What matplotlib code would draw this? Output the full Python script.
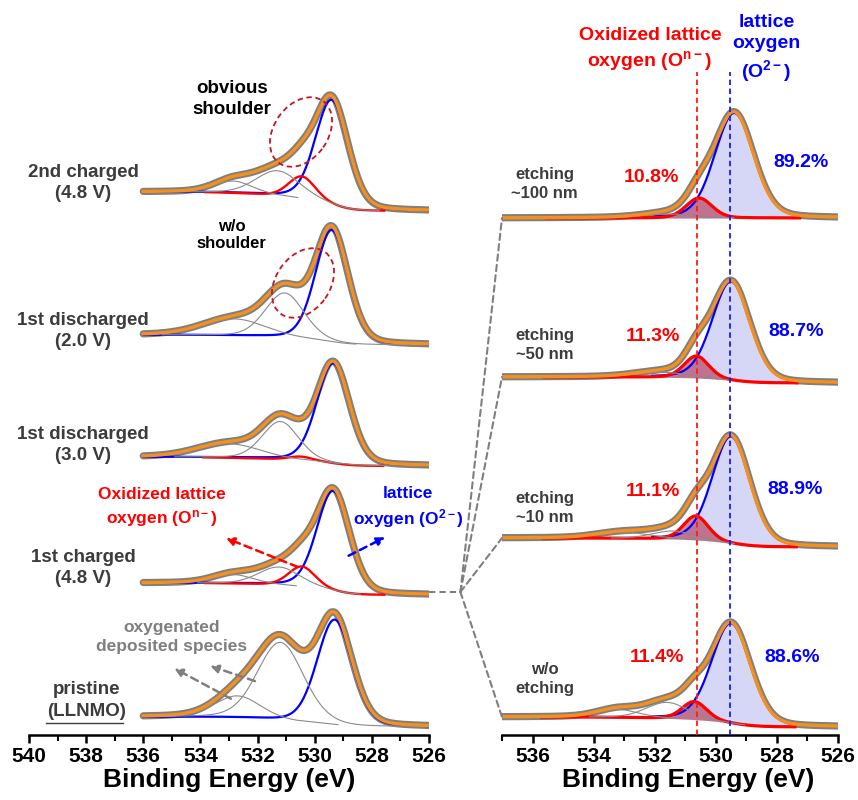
import numpy as np
import matplotlib
matplotlib.use("Agg")
import matplotlib.pyplot as plt
from matplotlib.patches import Ellipse, ConnectionPatch
from matplotlib import transforms

plt.rcParams['font.family'] = ['Liberation Sans', 'DejaVu Sans']
plt.rcParams['font.weight'] = 'bold'
plt.rcParams['mathtext.fontset'] = 'custom'
plt.rcParams['mathtext.rm'] = 'Liberation Sans:bold'
plt.rcParams['mathtext.bf'] = 'Liberation Sans:bold'
plt.rcParams['mathtext.it'] = 'Liberation Sans:bold'

# ---- data (intensity in arbitrary units, stacked) ----
# left panel, bottom to top
left_labels = ["1st charged\n(4.8 V)", "1st discharged\n(3.0 V)",
               "1st discharged\n(2.0 V)", "2nd charged\n(4.8 V)"]
left_bg_high = [18, 152, 278, 400, 543]   # background at 536 eV
left_bg_low = [8, 140, 269, 390, 524]     # background at 526 eV
# fitted components: (kind, centre eV, fwhm eV, height)
left_peaks = [
    [("O2-", 529.3, 1.45, 105), ("dep", 531.2, 1.9, 78), ("dep", 532.7, 1.9, 22)],
    [("O2-", 529.35, 1.35, 100), ("On-", 530.45, 1.1, 20),
     ("dep", 531.25, 1.7, 18), ("dep", 532.85, 1.7, 9)],
    [("O2-", 529.35, 1.35, 100), ("On-", 530.5, 1.0, 4),
     ("dep", 531.2, 1.5, 38), ("dep", 533.0, 2.6, 14)],
    [("O2-", 529.4, 1.35, 112), ("dep", 531.05, 1.6, 45), ("dep", 532.8, 2.6, 17)],
    [("O2-", 529.4, 1.35, 105), ("On-", 530.45, 1.1, 22),
     ("dep", 531.3, 1.8, 25), ("dep", 532.85, 1.6, 12)],
]

# right panel (depth profile of 1st charged), bottom to top
right_labels = ["w/o\netching", "etching\n~10 nm", "etching\n~50 nm", "etching\n~100 nm"]
right_bg_high = [18, 197, 358, 517]
right_bg_low = [8, 188, 352, 517]
right_on_pct = ["11.4%", "11.1%", "11.3%", "10.8%"]
right_o2_pct = ["88.6%", "88.9%", "88.7%", "89.2%"]
right_peaks = [
    [("O2-", 529.5, 1.5, 100), ("On-", 530.7, 0.95, 18),
     ("dep", 531.6, 1.6, 16), ("dep", 533.2, 1.6, 8)],
    [("O2-", 529.5, 1.45, 107), ("On-", 530.65, 0.95, 24),
     ("dep", 531.4, 1.6, 8), ("dep", 533.0, 2.0, 6)],
    [("O2-", 529.5, 1.45, 99), ("On-", 530.63, 0.95, 22), ("dep", 531.8, 2.0, 5)],
    [("O2-", 529.4, 1.5, 105), ("On-", 530.55, 1.0, 20), ("dep", 531.5, 2.0, 4)],
]
on_ref = 530.63   # eV, oxidized lattice oxygen
o2_ref = 529.55   # eV, lattice oxygen


def voigt(x, c, w, h, eta=0.2):
    d = (x - c) / w
    return h * ((1 - eta) * np.exp(-4 * np.log(2) * d ** 2) + eta / (1 + 4 * d ** 2))


def draw_spec(ax, x, peaks, hi, lo, fill=False):
    comps = [voigt(x, c, w, h) for _, c, w, h in peaks]
    total = np.sum(comps, axis=0)
    bg = lo + (hi - lo) * np.cumsum(total) / np.sum(total)   # shirley-like
    env = bg + total
    ax.plot(x, env, color='#7f7f7f', lw=5.2, zorder=1, solid_capstyle='round')
    for (kind, c, w, h), p in zip(peaks, comps):
        if kind == "O2-":
            col, lw, fc, a = 'blue', 1.6, '#d6d6f7', 1
            m = np.ones_like(x, bool)
            if fill:
                m = (x > c - 2.1) & (x < c + 2.6)
        elif kind == "On-":
            col, lw, fc, a = 'red', 1.7, '#b4304a', 0.6
            m = (x > c - 2.9) & (x < c + 3.4)
            if fill:
                lw = 2.3
                m = (x > c - 3.3) & (x < c + 5.0)
        else:
            col, lw = '#8a8a8a', 0.8
            m = p > 0.3
        if fill and kind != "dep":
            ax.fill_between(x[m], bg[m], (bg + p)[m], color=fc, alpha=a, lw=0, zorder=2)
        ax.plot(x[m], (bg + p)[m], color=col, lw=lw, zorder=3)
    ax.plot(x, env, color='#f5901e', lw=2.4, zorder=4)


fig = plt.figure(figsize=(8.58, 8.0), dpi=100)
ax1 = fig.add_axes([29 / 858, 65 / 800, 400 / 858, 735 / 800])
ax2 = fig.add_axes([502 / 858, 65 / 800, 336 / 858, 735 / 800])

for ax in (ax1, ax2):
    ax.set_ylim(0, 735)
    ax.set_yticks([])
    for s in ('left', 'right', 'top'):
        ax.spines[s].set_visible(False)
    ax.spines['bottom'].set_linewidth(1.8)
    ax.tick_params(axis='x', which='major', length=6, width=1.8, labelsize=15, pad=3)
    ax.tick_params(axis='x', which='minor', length=4, width=1.5)
    ax.set_xlabel("Binding Energy (eV)", fontsize=19, fontweight='bold', labelpad=1)
    ax.patch.set_visible(False)
ax2.xaxis.label.set_x(0.553)

ax1.set_xlim(540, 526)
ax1.set_xticks(np.arange(540, 525, -2))
ax1.set_xticks(np.arange(539, 526, -2), minor=True)
ax2.set_xlim(537, 526)
ax2.set_xticks(np.arange(536, 525, -2))
ax2.set_xticks(np.arange(537, 526, -2), minor=True)

x_left = np.linspace(526, 536, 500)
x_right = np.linspace(526, 537, 500)

for i in range(5):
    draw_spec(ax1, x_left, left_peaks[i], left_bg_high[i], left_bg_low[i])
for i in range(4):
    draw_spec(ax2, x_right, right_peaks[i], right_bg_high[i], right_bg_low[i], fill=True)

# ---- left panel text ----
dark = '#3c3c3c'
lab_y = [167, 290, 404, 552]
for lab, y in zip(left_labels, lab_y):
    ax1.text(538.1, y, lab, ha='center', va='center', fontsize=13.5, color=dark,
             linespacing=1.3)
ax1.text(538.0, 45, "pristine", ha='center', va='center', fontsize=13.5, color=dark)
ax1.text(538.0, 23, "(LLNMO)", ha='center', va='center', fontsize=13.5, color=dark)
ax1.plot([539.4, 536.7], [12, 12], color=dark, lw=1.0, clip_on=False)
ax1.text(532.9, 636, "obvious\nshoulder", ha='center', va='center', fontsize=13.5,
         color='black', linespacing=1.3)
ax1.text(532.9, 500, "w/o\nshoulder", ha='center', va='center', fontsize=12,
         color='black', linespacing=1.2)
ax1.text(535.35, 227, "Oxidized lattice\noxygen (O$^{\\mathrm{n-}}$)", ha='center',
         va='center', fontsize=12.5, color='red', linespacing=1.4)
ax1.text(526.73, 227, "lattice\noxygen (O$^{\\mathrm{2-}}$)", ha='center', va='center',
         fontsize=12.5, color='blue', linespacing=1.4)
ax1.text(535.0, 98, "oxygenated\ndeposited species", ha='center', va='center',
         fontsize=12.5, color='#7f7f7f', linespacing=1.3)

arr = dict(arrowstyle='-|>', ls=(0, (3, 2)), lw=1.8, mutation_scale=12)
ax1.annotate("", xy=(533.2, 198), xytext=(530.5, 167),
             arrowprops=dict(arr, color='red'), zorder=5)
ax1.annotate("", xy=(527.45, 199), xytext=(528.9, 178),
             arrowprops=dict(arr, color='blue'), zorder=5)
ax1.annotate("", xy=(533.75, 70), xytext=(532.0, 53),
             arrowprops=dict(arr, color='#7f7f7f'), zorder=5)
ax1.annotate("", xy=(535.0, 68), xytext=(532.85, 35),
             arrowprops=dict(arr, color='#7f7f7f'), zorder=5)

for ex, ey in [(530.48, 603), (530.41, 452)]:
    tr = fig.dpi_scale_trans + transforms.ScaledTranslation(ex, ey, ax1.transData)
    ax1.add_patch(Ellipse((0, 0), 0.76, 0.54, angle=55, fill=False, ls=(0, (3, 2)),
                          color='#c8141e', lw=1.3, transform=tr, zorder=6))

# ---- right panel text ----
ax2.vlines(on_ref, 0, 663, color='#ff1a1a', lw=1.3, ls=(0, (3, 2)), zorder=5)
ax2.vlines(o2_ref, 0, 663, color='#1a1aff', lw=1.3, ls=(0, (3, 2)), zorder=5)
ax2.text(532.16, 685, "Oxidized lattice\noxygen (O$^{\\mathrm{n-}}$)", ha='center',
         va='center', fontsize=14, color='red', linespacing=1.3)
ax2.text(528.34, 686, "lattice\noxygen\n(O$^{\\mathrm{2-}}$)", ha='center', va='center',
         fontsize=14, color='blue', linespacing=1.3)

lab_y = [56, 227, 390, 551]
on_x = [531.93, 532.07, 532.07, 532.1]
on_y = [78, 244, 399, 558]
o2_x = [527.49, 527.42, 527.36, 527.2]
o2_y = [77, 246, 404, 573]
for i in range(4):
    ax2.text(535.6, lab_y[i], right_labels[i], ha='center', va='center', fontsize=12,
             color=dark, linespacing=1.35)
    ax2.text(on_x[i], on_y[i], right_on_pct[i], ha='center', va='center', fontsize=14,
             color='red')
    ax2.text(o2_x[i], o2_y[i], right_o2_pct[i], ha='center', va='center', fontsize=14,
             color='blue')

# ---- connector from 1st charged to depth profiles ----
y_join = left_bg_low[1] + 3
ax1.plot([526, 524.9], [y_join, y_join], color='#7f7f7f', lw=1.5, ls=(0, (3, 2)),
         clip_on=False)
for yb in right_bg_high:
    con = ConnectionPatch(xyA=(524.9, y_join), coordsA=ax1.transData,
                          xyB=(537, yb), coordsB=ax2.transData,
                          color='#7f7f7f', lw=1.5, ls=(0, (3, 2)))
    fig.add_artist(con)

fig.savefig("out.png", dpi=100)
